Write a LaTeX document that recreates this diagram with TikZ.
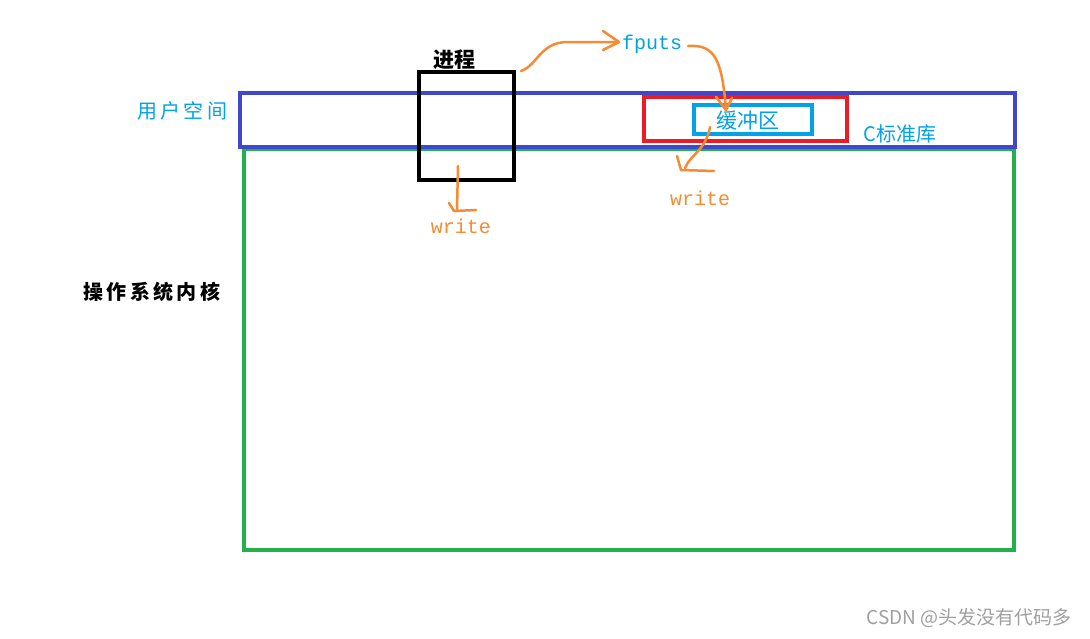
\documentclass[tikz,border=0pt]{standalone}
\usepackage{fontspec}
\newfontfamily\cjk{Noto Sans CJK SC}
\newfontfamily\mono{Liberation Mono}
\definecolor{ublue}{HTML}{3F48CC}
\definecolor{kgreen}{HTML}{22B14C}
\definecolor{lred}{HTML}{ED1C24}
\definecolor{cyanb}{HTML}{00A2E8}
\definecolor{orng}{HTML}{F68B33}
\definecolor{wm}{HTML}{A0A0A0}
\tikzset{
  box/.style={line width=4pt},
  arr/.style={orng, line width=2.5pt, line cap=round, line join=round},
  lbl/.style={inner sep=0pt, font=\cjk\fontsize{20}{20}\selectfont},
  code/.style={inner sep=0pt, font=\mono\fontsize{20}{20}\selectfont},
}
\begin{document}
\begin{tikzpicture}[x=1pt,y=-1pt]
\useasboundingbox[fill=white] (0,0) rectangle (1090,638);
% kernel
\draw[box,kgreen] (244,149) rectangle (1014,550);
% user space
\draw[box,ublue] (240,93) rectangle (1015,147);
% process
\draw[box,black] (419,72) rectangle (514,180);
% C library
\draw[box,lred] (644,97) rectangle (847,141);
\draw[box,cyanb] (694,105) rectangle (812,134);
% labels
\node[lbl,font=\cjk\fontsize{21}{21}\selectfont] (proc) at (454,60) {\bfseries 进程};
\node[lbl,cyanb] (user) at (182,111) {用\,户\,空\,间};
\node[lbl] (kern) at (152,292) {\bfseries 操\,作\,系\,统\,内\,核};
\node[lbl,cyanb,font=\cjk\fontsize{20}{20}\selectfont] (clib) at (900,134) {C标准库};
\node[lbl,cyanb,font=\cjk\fontsize{21}{21}\selectfont] (buf) at (748,121) {缓冲区};
\node[code,cyanb] (fputs) at (652,44) {fputs};
\node[code,orng] (w1) at (461,226) {write};
\node[code,orng] (w2) at (700,198) {write};
\node[inner sep=0pt,wm,font=\cjk\fontsize{19}{19}\selectfont] (csdn) at (969,618) {CSDN @头发没有代码多};
% hand-drawn arrows
\coordinate (a1s) at (521,71);
\coordinate (a1e) at (619,42);
\draw[arr] (a1s) .. controls (538,65) and (540,42) .. (568,42) -- (a1e);
\draw[arr] (603,31) -- (a1e) -- (603,50);
\coordinate (a2s) at (688,46);
\coordinate (a2e) at (726,110);
\draw[arr] (a2s) .. controls (715,44) and (722,60) .. (a2e);
\draw[arr] (716,97) -- (a2e) -- (732,98);
\coordinate (a3s) at (710,127);
\coordinate (a3e) at (685,168);
\draw[arr] (a3s) .. controls (706,150) and (690,155) .. (a3e);
\draw[arr] (677,156) -- (681,170) -- (714,171);
\coordinate (a4s) at (458,166);
\coordinate (a4e) at (457,210);
\draw[arr] (a4s) -- (a4e);
\draw[arr] (449,203) -- (454,211) -- (476,210);
\end{tikzpicture}
\end{document}
